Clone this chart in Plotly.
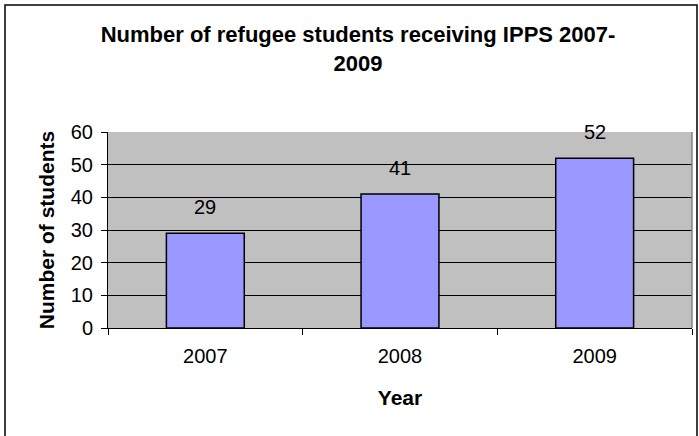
import plotly.graph_objects as go

years = ["2007", "2008", "2009"]
students = [29, 41, 52]

W, H = 699, 436
L, R, T, B = 108, 7, 132, 108
pw = W - L - R
ph = H - T - B

fig = go.Figure()
fig.add_trace(go.Bar(
    x=years, y=students,
    marker=dict(color="#9999FF", line=dict(color="black", width=1.5)),
))

# value labels above bars (x given as category index)
for i, v in enumerate(students):
    fig.add_annotation(x=i, y=v, xref="x", yref="y", text=str(v), showarrow=False,
                       yshift=26, font=dict(size=20, color="black"))

def px(x):
    return (x - L) / pw

def py(y):
    return 1 - (y - T) / ph

fig.add_shape(type="rect", xref="paper", yref="paper",
              x0=px(5), x1=px(697), y0=py(440), y1=py(5),
              line=dict(color="black", width=1.5), layer="below")

fig.update_layout(
    width=W, height=H,
    margin=dict(l=L, r=R, t=T, b=B),
    paper_bgcolor="white",
    plot_bgcolor="#C0C0C0",
    font=dict(family="Liberation Sans, Arial, sans-serif", color="black"),
    title=dict(text="<b>Number of refugee students receiving IPPS 2007-<br>2009</b>",
               x=358 / W, xref="container", xanchor="center",
               y=1 - 42 / H, yanchor="middle",
               font=dict(size=22)),
    showlegend=False,
    bargap=0.6,
    xaxis=dict(
        type="category",
        categoryorder="array", categoryarray=years,
        range=[-0.5, len(years) - 0.5],
        showline=True, linecolor="black", linewidth=1,
        ticks="outside", ticklen=6, tickcolor="black", tickson="boundaries",
        tickfont=dict(size=20), ticklabelstandoff=10,
        title=dict(text="<b>Year</b>", font=dict(size=21), standoff=24),
        showgrid=False, mirror=False,
    ),
    yaxis=dict(
        range=[0, 60], dtick=10, tick0=0,
        showline=True, linecolor="black", linewidth=1,
        ticks="outside", ticklen=6, tickcolor="black",
        tickfont=dict(size=20), ticklabelstandoff=4,
        showgrid=True, gridcolor="black", gridwidth=1,
        zeroline=False,
        title=dict(text="<b>Number of students</b>", font=dict(size=21), standoff=10),
    ),
)

fig.add_shape(type="line", xref="paper", yref="paper", x0=1, x1=1, y0=0, y1=1,
              line=dict(color="#808080", width=1.5))

fig.write_html("out.html")
